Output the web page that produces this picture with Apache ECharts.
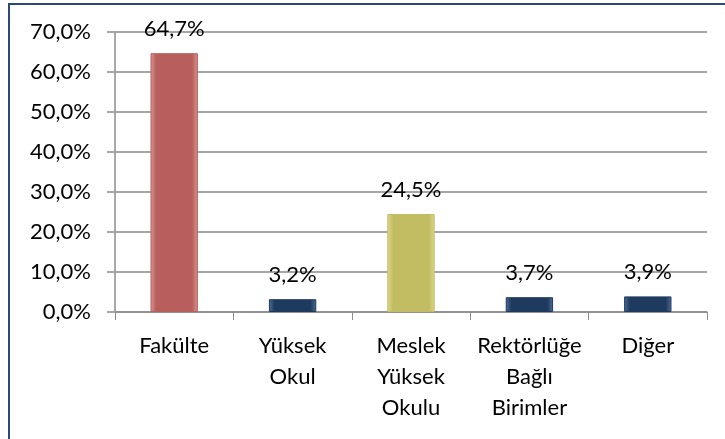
<!DOCTYPE html>
<html>
<head>
<meta charset="utf-8">
<script src="https://cdn.jsdelivr.net/npm/echarts@6/dist/echarts.min.js"></script>
<style>
  body { margin: 0; background: #fff; }
  #chart { width: 725px; height: 439px; }
  #frame { position: absolute; left: 8px; top: 3px; width: 717px; height: 436px;
           border-top: 2px solid #2b4a75; border-left: 2px solid #2b4a75; pointer-events: none; }
</style>
</head>
<body>
<div id="chart"></div>
<div id="frame"></div>
<script>
var categories = ["Fakülte", "Yüksek\nOkul", "Meslek\nYüksek\nOkulu", "Rektörlüğe\nBağlı\nBirimler", "Diğer"];
var values = [64.7, 3.2, 24.5, 3.7, 3.9];
var barColors = ["#b85f5d", "#1f3a5f", "#c2bd62", "#1f3a5f", "#1f3a5f"];
var edgeColors = ["#d99694", "#4f6d96", "#dcd88f", "#4f6d96", "#4f6d96"];

function fmt(v) { return v.toFixed(1).replace(".", ",") + "%"; }

var myChart = echarts.init(document.getElementById("chart"));
myChart.setOption({
  animation: false,
  textStyle: { fontFamily: "Lato, 'Open Sans', sans-serif" },
  grid: { left: 115, right: 18, top: 32, bottom: 127 },
  xAxis: {
    type: "category",
    data: categories,
    axisLine: { lineStyle: { color: "#8c8c8c", width: 1.5 } },
    axisTick: { show: true, alignWithLabel: false, length: 8, lineStyle: { color: "#8c8c8c" } },
    axisLabel: { color: "#000", fontSize: 22, lineHeight: 31, margin: 18, interval: 0 }
  },
  yAxis: {
    type: "value",
    min: 0, max: 70, interval: 10,
    axisLine: { show: true, lineStyle: { color: "#8c8c8c", width: 1.5 } },
    axisTick: { show: true, length: 8, lineStyle: { color: "#a6a6a6", width: 2 } },
    splitLine: { lineStyle: { color: "#a6a6a6", width: 2 } },
    axisLabel: { color: "#000", fontSize: 22, margin: 24, formatter: function (v) { return fmt(v); } }
  },
  series: [{
    type: "bar",
    barWidth: "40%",
    data: values.map(function (v, i) {
      return {
        value: v,
        itemStyle: {
          color: new echarts.graphic.LinearGradient(0, 0, 1, 0, [
            { offset: 0, color: edgeColors[i] },
            { offset: 0.12, color: barColors[i] },
            { offset: 0.88, color: barColors[i] },
            { offset: 1, color: edgeColors[i] }
          ]),
          borderColor: barColors[i],
          borderWidth: 1
        }
      };
    }),
    label: {
      show: true, position: "top", distance: 13, color: "#000", fontSize: 22,
      formatter: function (p) { return fmt(p.value); }
    }
  }]
});
</script>
</body>
</html>
